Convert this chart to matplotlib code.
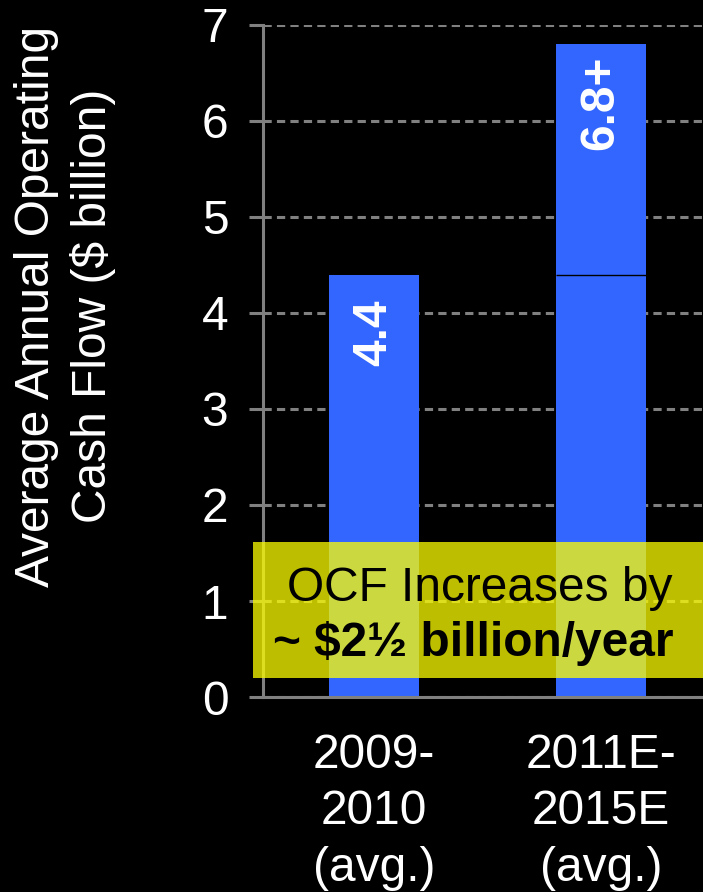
import matplotlib
matplotlib.use("Agg")
import matplotlib.pyplot as plt
from matplotlib.patches import Rectangle

plt.rcParams['font.family'] = ['Liberation Sans', 'DejaVu Sans']

# data
periods = ['2009-\n2010\n(avg.)', '2011E-\n2015E\n(avg.)']
base_ocf = [4.4, 4.4]          # $ billion
increment_ocf = [0.0, 2.4]     # extra on top of the base
bar_labels = ['4.4', '6.8+']
yticks = [0, 1, 2, 3, 4, 5, 6, 7]

BLUE = '#3366FF'
GRAY = '#808080'
FS = 34.5


def main():
    fig = plt.figure(figsize=(7.03, 8.92), dpi=100, facecolor='black')
    ax = fig.add_axes([0.3741, 0.2186, 0.6259, 0.7534], facecolor='black')

    x = list(range(len(periods)))
    lower = ax.bar(x, base_ocf, width=0.4, color=BLUE, zorder=2)
    upper = ax.bar(x, increment_ocf, width=0.4, bottom=base_ocf, color=BLUE, zorder=2)

    # thin black seam where the stacked part starts
    for p, inc in zip(upper, increment_ocf):
        if inc > 0:
            ax.hlines(p.get_y(), p.get_x(), p.get_x() + p.get_width(),
                      color='black', lw=1, zorder=3)

    totals = [b + i for b, i in zip(base_ocf, increment_ocf)]
    for xi, t, lab in zip(x, totals, bar_labels):
        ax.annotate(lab, (xi, t), xytext=(0, -42), textcoords='offset points',
                    rotation=90, ha='center', va='center', color='white',
                    fontsize=FS, fontweight='bold', zorder=4)

    ax.set_xlim(-0.489, 1.449)
    ax.set_ylim(0, 7)
    ax.set_yticks(yticks)
    ax.set_xticks(x)
    ax.set_xticklabels(periods, fontsize=FS, color='white', linespacing=1.32)
    ax.tick_params(axis='x', length=0, pad=26)
    ax.tick_params(axis='y', length=10, width=2.2, color=GRAY, pad=15,
                   labelsize=FS, labelcolor='white')

    ax.yaxis.grid(True, color=GRAY, lw=2.2, dashes=(2.7, 1.7), zorder=1)
    ax.set_axisbelow(True)
    for side in ['top', 'right']:
        ax.spines[side].set_visible(False)
    for side in ['left', 'bottom']:
        ax.spines[side].set_color(GRAY)
        ax.spines[side].set_linewidth(2.2)

    fig.text(65 / 703, 1 - 306 / 892,
             'Average Annual Operating\nCash Flow ($ billion)',
             rotation=90, ha='center', va='center', color='white',
             fontsize=FS, multialignment='center', linespacing=1.32)

    # yellow call-out box across the bottom of the bars
    box = Rectangle((253 / 703, 1 - 678 / 892), 450 / 703, 136 / 892,
                    transform=fig.transFigure, facecolor='yellow',
                    alpha=0.75, edgecolor='none', zorder=5)
    fig.add_artist(box)
    fig.text(480 / 703, 1 - 601 / 892, 'OCF Increases by', ha='center',
             va='baseline', color='black', fontsize=FS, zorder=6)
    fig.text(473 / 703, 1 - 656 / 892, '~ $2½ billion/year', ha='center',
             va='baseline', color='black', fontsize=FS, fontweight='bold',
             zorder=6)

    fig.savefig('out.png', dpi=100, facecolor='black')
    plt.close()


if __name__ == "__main__":
    main()
